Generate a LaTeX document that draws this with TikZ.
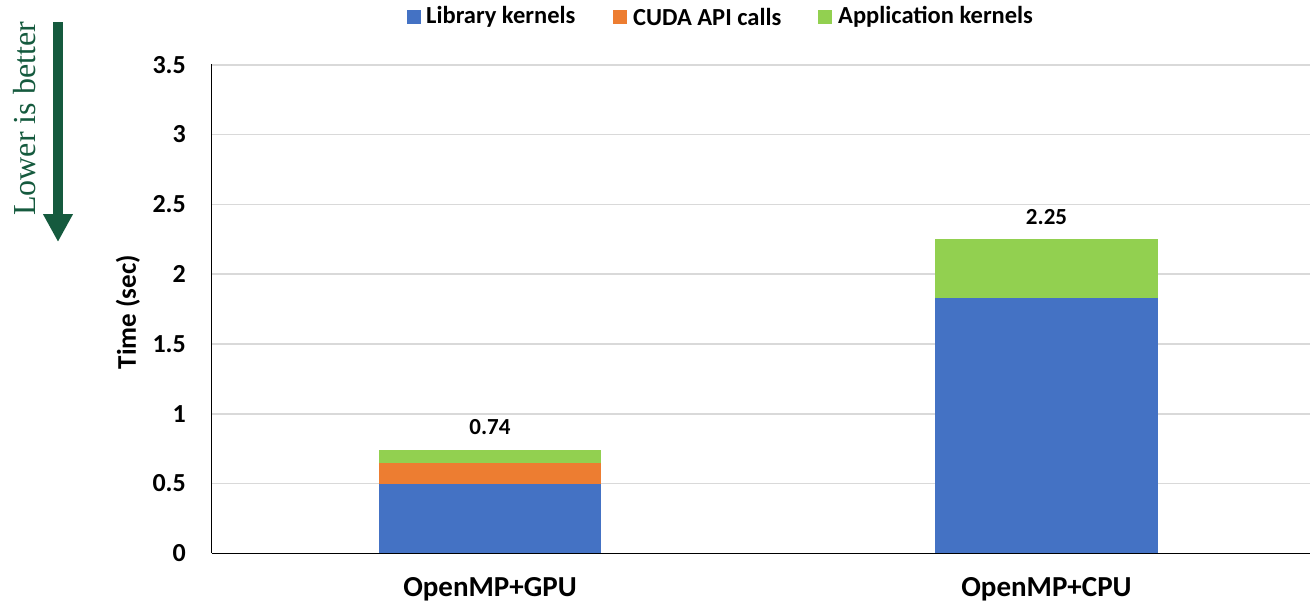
\documentclass[tikz,border=0pt]{standalone}
\usepackage{fontspec}
\setmainfont{Carlito}
\newfontfamily\timesf{Liberation Serif}
\usetikzlibrary{arrows.meta}
\definecolor{libblue}{HTML}{4472C4}
\definecolor{cudaorange}{HTML}{ED7D31}
\definecolor{appgreen}{HTML}{92D050}
\definecolor{gridgray}{HTML}{D9D9D9}
\definecolor{arrowgreen}{HTML}{155A3E}
\tikzset{
  tick/.style={anchor=east, inner sep=0pt, font=\fontsize{26}{30}\selectfont\bfseries},
  catlabel/.style={inner sep=0pt, font=\fontsize{29}{33}\selectfont\bfseries},
  vallabel/.style={inner sep=0pt, font=\fontsize{23}{27}\selectfont\bfseries},
  legtext/.style={anchor=west, inner sep=0pt, font=\fontsize{24.5}{28}\selectfont\bfseries},
  legbox/.style={minimum width=14pt, minimum height=14pt, inner sep=0pt},
  gridline/.style={draw=gridgray, line width=1.6pt}
}
\begin{document}
\begin{tikzpicture}[x=1pt,y=-1pt]
\useasboundingbox (0,0) rectangle (1310,603);
% gridlines
\foreach \v in {0.5,1,...,3.5}{
  \draw[gridline] (212,{553.3-139.6*\v}) -- (1310,{553.3-139.6*\v});
}
% ticks
\foreach \v/\t in {0/0,0.5/0.5,1/1,1.5/1.5,2/2,2.5/2.5,3/3,3.5/3.5}{
  \node[tick] at (186,{553.3-139.6*\v}) {\t};
}
% bars: OpenMP+GPU
\fill[libblue] (379,553.3) rectangle (601,{553.3-139.6*0.495});
\fill[cudaorange] (379,{553.3-139.6*0.495}) rectangle (601,{553.3-139.6*0.65});
\fill[appgreen] (379,{553.3-139.6*0.65}) rectangle (601,{553.3-139.6*0.74});
% bars: OpenMP+CPU
\fill[libblue] (935,553.3) rectangle (1158,{553.3-139.6*1.83});
\fill[appgreen] (935,{553.3-139.6*1.83}) rectangle (1158,{553.3-139.6*2.25});
% axes
\draw[black, line width=1.6pt] (211.5,64) -- (211.5,553.3);
\draw[black, line width=1.6pt] (211.5,553.3) -- (1310,553.3);
% value labels
\node[vallabel] (v1) at (490,427) {0.74};
\node[vallabel] (v2) at (1046.5,217) {2.25};
% category labels
\node[catlabel] (c1) at (490,589) {OpenMP+GPU};
\node[catlabel] (c2) at (1046.5,589) {OpenMP+CPU};
% y-axis title
\node[rotate=90, inner sep=0pt, font=\fontsize{27}{31}\selectfont\bfseries] (ytitle) at (128,312) {Time (sec)};
% legend
\node[legbox, fill=libblue] (lb1) at (414,17) {};
\node[legtext] (lt1) at (426,17) {Library kernels};
\node[legbox, fill=cudaorange] (lb2) at (620,17) {};
\node[legtext] (lt2) at (633,17) {CUDA API calls};
\node[legbox, fill=appgreen] (lb3) at (825,17) {};
\node[legtext] (lt3) at (838,17) {Application kernels};
% lower is better
\node[rotate=90, inner sep=0pt, text=arrowgreen, font=\fontsize{32}{36}\selectfont\timesf] (lib) at (25,119) {Lower is better};
\coordinate (arrtop) at (58,22);
\coordinate (arrtip) at (58,242);
\draw[arrowgreen, line width=10pt, -{Triangle[width=28pt,length=28pt]}] (arrtop) -- (arrtip);
\end{tikzpicture}
\end{document}
